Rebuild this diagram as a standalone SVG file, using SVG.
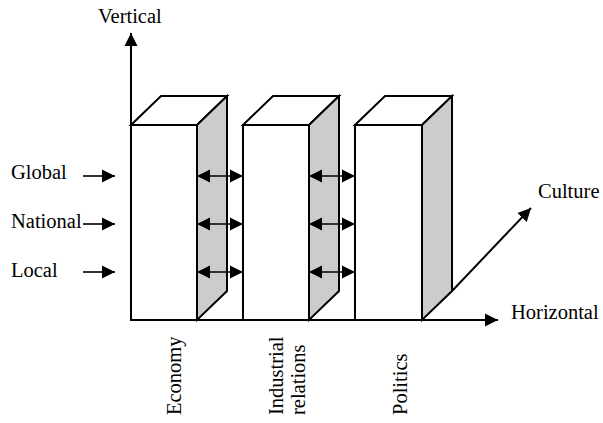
<svg xmlns="http://www.w3.org/2000/svg" width="603" height="423" viewBox="0 0 603 423">
<style>
text{font-family:'Liberation Serif','Times New Roman','DejaVu Serif',serif;font-size:20.5px;fill:#000}
.face{fill:#fff;stroke:#000;stroke-width:2;stroke-linejoin:miter}
.side{fill:#cccccc;stroke:#000;stroke-width:2}
.ax{stroke:#000;stroke-width:2;fill:none}
.ar{stroke:#000;stroke-width:1.6;fill:none}
</style>
<defs>
<marker id="ah" markerUnits="userSpaceOnUse" markerWidth="14" markerHeight="14" refX="13" refY="6.5" orient="auto-start-reverse" viewBox="0 0 14 13">
<path d="M0,0 L13,6.5 L0,13 z" fill="#000"/>
</marker>
</defs>
<g id="box-economy">
<rect class="face" x="131" y="125" width="66" height="195"/>
<path class="face" d="M131,125 L161,96 L227,96 L197,125 z"/>
<path class="side" d="M197,125 L227,96 L227,291 L197,320 z"/>
</g>
<g id="box-industrial">
<rect class="face" x="243" y="125" width="66" height="195"/>
<path class="face" d="M243,125 L273,96 L339,96 L309,125 z"/>
<path class="side" d="M309,125 L339,96 L339,291 L309,320 z"/>
</g>
<g id="box-politics">
<rect class="face" x="355" y="125" width="67" height="195"/>
<path class="face" d="M355,125 L385,96 L452,96 L422,125 z"/>
<path class="side" d="M422,125 L452,96 L452,291 L422,320 z"/>
</g>
<g id="connectors">
<line class="ax" x1="131" y1="320" x2="131" y2="33" marker-end="url(#ah)"/>
<line class="ax" x1="131" y1="320" x2="498" y2="320" marker-end="url(#ah)"/>
<line class="ax" x1="452" y1="291" x2="531" y2="208" marker-end="url(#ah)"/>
<line class="ar" x1="83" y1="176" x2="115" y2="176" marker-end="url(#ah)"/>
<line class="ar" x1="83" y1="224" x2="115" y2="224" marker-end="url(#ah)"/>
<line class="ar" x1="83" y1="272" x2="115" y2="272" marker-end="url(#ah)"/>
<line class="ar" x1="197" y1="176" x2="243" y2="176" marker-start="url(#ah)" marker-end="url(#ah)"/>
<line class="ar" x1="197" y1="224" x2="243" y2="224" marker-start="url(#ah)" marker-end="url(#ah)"/>
<line class="ar" x1="197" y1="272" x2="243" y2="272" marker-start="url(#ah)" marker-end="url(#ah)"/>
<line class="ar" x1="309" y1="176" x2="355" y2="176" marker-start="url(#ah)" marker-end="url(#ah)"/>
<line class="ar" x1="309" y1="224" x2="355" y2="224" marker-start="url(#ah)" marker-end="url(#ah)"/>
<line class="ar" x1="309" y1="272" x2="355" y2="272" marker-start="url(#ah)" marker-end="url(#ah)"/>
</g>
<g font-family="'Liberation Serif', 'Times New Roman', serif" font-size="20.5">
<g id="label-vertical"><text x="98" y="23">Vertical</text></g>
<g id="label-global"><text x="11" y="179">Global</text></g>
<g id="label-national"><text x="11" y="228">National</text></g>
<g id="label-local"><text x="11" y="277">Local</text></g>
<g id="label-culture"><text x="538" y="198">Culture</text></g>
<g id="label-horizontal"><text x="511" y="319">Horizontal</text></g>
<g id="label-economy"><text transform="translate(181,415) rotate(-90)">Economy</text></g>
<g id="label-industrial"><text transform="translate(283,415) rotate(-90)">Industrial</text><text transform="translate(305,415) rotate(-90)">relations</text></g>
<g id="label-politics"><text transform="translate(407,415) rotate(-90)">Politics</text></g>
</g>
</svg>
